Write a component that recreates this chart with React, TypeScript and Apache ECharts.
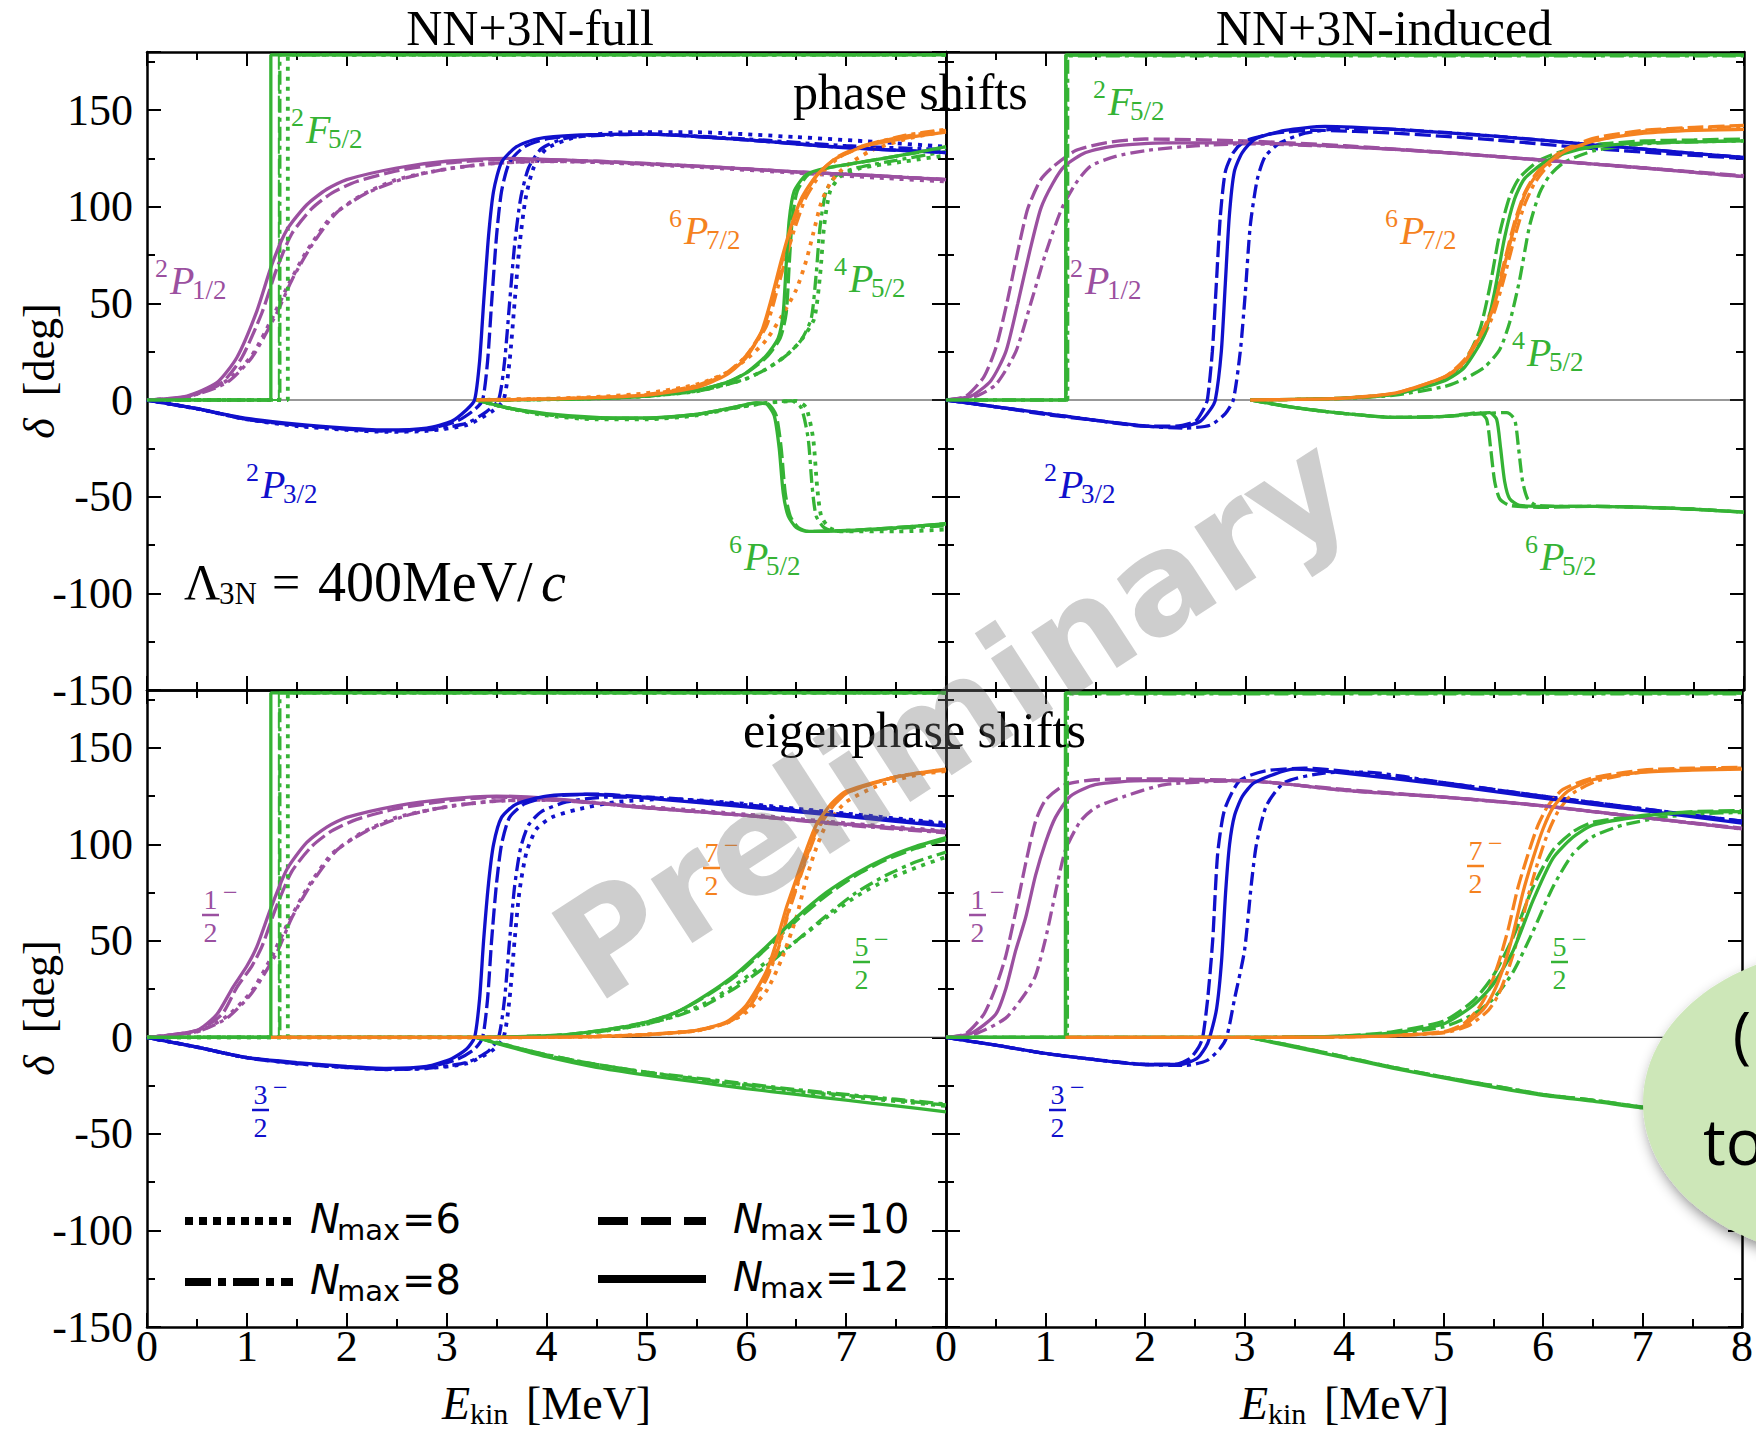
import React, { useEffect, useRef } from 'react';
import * as echarts from 'echarts';

const PURPLE = '#9b50a0';
const BLUE = '#1010cc';
const GREEN = '#35b335';
const ORANGE = '#f5821f';
const SERIF = "'Liberation Serif', 'Times New Roman', serif";
const SANS = "'DejaVu Sans', sans-serif";

// ---------- Panel A: phase shifts, NN+3N-full ----------
const aP1_12 = [[0,0],[0.4,2],[0.7,9],[0.9,22],[1.1,46],[1.25,70],[1.4,88],[1.6,101],[1.8,109],[2.0,114],[2.5,120],[3.0,123.5],[3.6,125],[4.5,123.5],[5.5,121],[6.5,118],[7.3,116],[8,114]];
const aP1_10 = [[0,0],[0.4,1.8],[0.75,9],[0.95,22],[1.15,45],[1.3,68],[1.45,86],[1.65,99],[1.85,107],[2.1,113],[2.5,118.5],[3.0,122.5],[3.6,124.5],[4.5,123.5],[5.5,121],[6.5,118],[7.3,116],[8,114]];
const aP1_8 = [[0,0],[0.4,1.5],[0.8,9],[1.05,22],[1.3,45],[1.45,62],[1.65,80],[1.9,97],[2.2,107],[2.6,115],[3.0,119.5],[3.5,122.5],[4.0,123.5],[4.5,123],[5.5,121],[6.5,118],[7.3,116],[8,114]];
const aP1_6 = [[0,0],[0.4,1.5],[0.8,10],[1.05,23],[1.25,42],[1.4,58],[1.6,77],[1.85,95],[2.15,106],[2.5,114],[3.0,119.5],[3.5,122.5],[4.0,123.5],[4.5,123],[5.5,120.5],[6.5,117.5],[7.3,115],[8,113]];

const aP3_12 = [[0,0],[0.5,-4.5],[1,-9.5],[1.5,-12.5],[2,-14.5],[2.4,-15.5],[2.8,-14.5],[3.05,-11],[3.2,-5],[3.28,0],[3.33,20],[3.37,50],[3.42,85],[3.47,108],[3.55,123],[3.7,131],[3.9,135],[4.3,137],[5,137.5],[6,134.5],[7,130.5],[8,128]];
const aP3_10 = [[0,0],[0.5,-4.5],[1,-10],[1.5,-13],[2,-15],[2.4,-16],[2.8,-15],[3.1,-11],[3.28,-5],[3.36,0],[3.41,20],[3.45,50],[3.5,85],[3.55,108],[3.63,123],[3.78,131],[4.0,135],[4.4,137],[5,137.5],[6,134.5],[7,130.5],[8,128]];
const aP3_8 = [[0,0],[0.5,-4.5],[1,-10],[1.5,-13],[2,-15],[2.4,-16],[2.8,-15.5],[3.2,-12],[3.4,-6],[3.52,0],[3.58,20],[3.63,50],[3.68,80],[3.74,104],[3.82,120],[3.95,130],[4.2,135.5],[4.6,137],[5,137.5],[6,135],[7,131.5],[8,129.5]];
const aP3_6 = [[0,0],[0.5,-4.5],[1,-10],[1.5,-13.5],[2,-15.5],[2.4,-16.5],[2.8,-16],[3.2,-13],[3.45,-6],[3.57,0],[3.63,20],[3.68,50],[3.73,80],[3.79,104],[3.87,120],[4.0,130],[4.3,136],[4.8,138.5],[5.5,138.5],[6.5,136],[7.3,133.5],[8,131]];

const fFull_12 = [[0,0],[1.24,0],[1.24,178.5],[8,178.5]];
const fFull_10 = [[0,0],[1.32,0],[1.32,178.5],[8,178.5]];
const fFull_8 = [[0,0],[1.33,0],[1.33,178.5],[8,178.5]];
const fFull_6 = [[0,0],[1.41,0],[1.41,178.5],[8,178.5]];

const aP7_12 = [[3.3,0],[4,0.5],[4.5,1.2],[5,2.5],[5.5,6.5],[5.8,13],[6.0,22],[6.15,35],[6.25,52],[6.35,72],[6.45,90],[6.55,104],[6.7,116],[6.9,125],[7.2,131.5],[7.6,135.5],[8,138.5]];
const aP7_10 = [[3.3,0],[4,0.5],[4.5,1.2],[5,2.6],[5.5,7],[5.8,13.5],[6.0,23],[6.17,37],[6.27,54],[6.37,74],[6.47,91],[6.57,105],[6.72,117],[6.92,126],[7.2,132],[7.6,136.5],[8,139.5]];
const aP7_8 = [[3.3,0],[4,0.5],[4.5,1.3],[5,2.8],[5.5,7.5],[5.8,14],[6.0,23],[6.2,38],[6.3,55],[6.4,74],[6.5,91],[6.6,105],[6.75,117],[6.95,126],[7.25,132.5],[7.6,137],[8,140]];
const aP7_6 = [[3.3,0],[4,0.7],[4.5,1.6],[5,3.5],[5.5,8],[5.8,14],[6.0,21],[6.2,31],[6.35,43],[6.5,57],[6.6,72],[6.67,86],[6.75,102],[6.85,113],[7.0,121],[7.25,129],[7.6,135],[8,139]];

const aQ5_12 = [[3.3,0],[4,0.3],[4.5,0.8],[5,2],[5.5,5],[5.8,9],[6.0,14],[6.2,23],[6.32,32],[6.37,45],[6.4,70],[6.43,93],[6.48,108],[6.6,116.5],[6.8,120],[7.15,123],[7.6,127],[8,131]];
const aQ5_10 = [[3.3,0],[4,0.3],[4.5,0.8],[5,2],[5.5,5],[5.8,9],[6.0,14],[6.2,22],[6.34,32],[6.4,45],[6.43,70],[6.46,93],[6.51,108],[6.62,116.5],[6.82,120],[7.15,123],[7.6,127],[8,130.5]];
const aQ5_8 = [[3.3,0],[4,0.3],[4.5,0.8],[5,2],[5.5,4.5],[5.8,8],[6.0,11],[6.2,16],[6.4,23],[6.55,31],[6.65,42],[6.7,65],[6.74,90],[6.8,108],[6.9,116],[7.1,120],[7.5,124],[8,128.5]];
const aQ5_6 = [[3.3,0],[4,0.3],[4.5,0.8],[5,2],[5.5,4.5],[5.8,8],[6.0,11],[6.2,16],[6.4,23],[6.55,31],[6.68,42],[6.74,65],[6.78,90],[6.84,108],[6.95,116],[7.15,120],[7.6,123.5],[8,126.5]];

const aS5_12 = [[3.3,0],[3.6,-4],[4,-7],[4.5,-9],[5,-9.3],[5.5,-7.5],[5.9,-3.5],[6.1,-1.5],[6.2,-2],[6.28,-8],[6.33,-25],[6.37,-48],[6.42,-60],[6.5,-66],[6.6,-68],[7,-67.5],[7.5,-66],[8,-64]];
const aS5_10 = [[3.3,0],[3.6,-4],[4,-7.5],[4.5,-9.5],[5,-9.5],[5.5,-7.5],[5.9,-3.5],[6.1,-1.5],[6.22,-2],[6.3,-8],[6.35,-25],[6.39,-48],[6.44,-60],[6.52,-66],[6.62,-68],[7,-67.5],[7.5,-66],[8,-64]];
const aS5_8 = [[3.3,0],[3.6,-4],[4,-7.5],[4.5,-9.5],[5,-9.5],[5.5,-7.5],[5.9,-4],[6.2,-1.5],[6.45,-0.5],[6.55,-4],[6.62,-20],[6.66,-45],[6.7,-60],[6.78,-66],[6.9,-68],[7.3,-67],[8,-65]];
const aS5_6 = [[3.3,0],[3.6,-4],[4,-8],[4.5,-10],[5,-10],[5.5,-8],[5.9,-4],[6.2,-1.5],[6.5,-0.5],[6.6,-4],[6.67,-20],[6.71,-45],[6.75,-60],[6.83,-66],[6.95,-68],[7.5,-68],[8,-67]];

// ---------- Panel B: phase shifts, NN+3N-induced ----------
const bP1_10 = [[0,0],[0.2,2],[0.38,12],[0.5,27],[0.61,50],[0.72,77],[0.82,99],[0.95,114],[1.08,121],[1.3,129],[1.6,133],[2,135],[3,134],[4,131.5],[5,128],[6,124],[7,120],[8,116]];
const bP1_12 = [[0,0],[0.25,2],[0.45,10],[0.6,25],[0.72,50],[0.84,77],[0.95,99],[1.07,112],[1.19,121],[1.4,128],[1.7,131.5],[2.2,133],[3,133],[4,131],[5,128],[6,124],[7,120],[8,115.5]];
const bP1_8 = [[0,0],[0.3,2],[0.5,8],[0.7,25],[0.85,50],[1.0,76],[1.16,99],[1.3,112],[1.45,121],[1.7,126],[2.0,129],[2.5,131.5],[3,132.5],[4,131],[5,128],[6,124],[7,120],[8,115.5]];

const bP3_10 = [[0,0],[0.5,-3.5],[1,-7.5],[1.5,-10.5],[2,-13.5],[2.3,-13.5],[2.5,-11],[2.58,-5],[2.62,0],[2.67,25],[2.71,60],[2.75,95],[2.8,118],[2.88,128],[3.0,134],[3.3,138],[3.7,139.5],[4.5,138],[5.5,134.5],[6.5,130],[7.5,126.5],[8,125]];
const bP3_12 = [[0,0],[0.5,-3.5],[1,-7],[1.5,-10.5],[2,-13.5],[2.35,-14],[2.55,-11],[2.65,-5],[2.7,0],[2.76,25],[2.8,60],[2.84,95],[2.89,118],[2.97,128],[3.1,135],[3.4,139.5],[3.8,141.5],[4.5,140],[5.5,136.5],[6.5,132],[7.5,127.5],[8,125.5]];
const bP3_8 = [[0,0],[0.5,-3.5],[1,-7],[1.5,-10.5],[2,-13.5],[2.4,-14.5],[2.65,-13],[2.8,-7],[2.88,0],[2.95,25],[3.0,55],[3.05,90],[3.12,114],[3.2,126],[3.35,133],[3.6,138],[4.0,140.5],[4.5,140],[5.5,136.5],[6.5,132],[7.5,127.5],[8,125.5]];

const fInd_12 = [[0,0],[1.2,0],[1.2,178.5],[8,178.5]];
const fInd_10 = [[0,0],[1.21,0],[1.21,178],[8,178]];
const fInd_8 = [[0,0],[1.22,0],[1.22,178],[8,178]];

const bP7_12 = [[3.05,0],[3.5,0.3],[4,1],[4.5,3.5],[5,12],[5.2,20],[5.4,37],[5.5,50],[5.6,70],[5.7,90],[5.8,106],[5.9,115],[6,121],[6.2,128.5],[6.5,134],[7,138],[7.5,139.5],[8,140]];
const bP7_10 = [[3.05,0],[3.5,0.3],[4,1],[4.5,3.5],[5,12],[5.2,21],[5.4,38],[5.5,52],[5.6,72],[5.7,92],[5.8,107],[5.9,116],[6,122],[6.2,129.5],[6.5,135.5],[7,139.5],[7.5,141],[8,142]];
const bP7_8 = [[3.05,0],[3.5,0.3],[4,1],[4.5,3.2],[5,11],[5.2,19],[5.4,34],[5.5,46],[5.6,64],[5.7,84],[5.8,101],[5.9,112],[6,119],[6.2,128],[6.5,134],[7,139],[7.5,140.5],[8,141.5]];

const bQ5_12 = [[3.05,0],[3.5,0.3],[4,1],[4.5,3],[5,10],[5.2,17],[5.4,34],[5.5,56],[5.6,84],[5.7,104],[5.8,114.5],[6,123],[6.2,127.5],[6.5,131],[7,133],[7.5,133.5],[8,134]];
const bQ5_10 = [[3.05,0],[3.5,0.3],[4,1],[4.5,3],[5,11],[5.2,20],[5.35,36],[5.45,58],[5.55,86],[5.65,105],[5.75,115],[5.95,124],[6.2,129],[6.5,132],[7,134],[7.5,134.5],[8,135]];
const bQ5_8 = [[3.05,0],[3.5,0.3],[4,0.8],[4.5,2.5],[5,7],[5.2,11],[5.4,17],[5.55,26],[5.65,40],[5.75,62],[5.85,90],[5.95,107],[6.05,116],[6.2,123],[6.5,129],[7,132.5],[7.5,133.5],[8,134]];

const bS5_12 = [[3.05,0],[3.5,-4],[4,-7],[4.5,-9],[5,-8.5],[5.3,-7],[5.45,-6.5],[5.52,-10],[5.56,-25],[5.6,-42],[5.65,-51],[5.75,-54.5],[6,-55],[6.5,-55],[7,-55.5],[7.5,-56.5],[8,-58]];
const bS5_10 = [[3.05,0],[3.5,-4],[4,-7],[4.5,-9],[5,-8.5],[5.25,-7],[5.35,-6.5],[5.42,-10],[5.46,-25],[5.5,-42],[5.55,-51],[5.65,-54.5],[6,-55.5],[6.5,-55],[7,-55.5],[7.5,-56.5],[8,-58]];
const bS5_8 = [[3.05,0],[3.5,-4],[4,-7],[4.5,-9],[5,-8.5],[5.4,-7],[5.62,-6.5],[5.7,-10],[5.74,-25],[5.78,-42],[5.83,-51],[5.92,-54.5],[6.2,-55],[6.5,-55],[7,-55.5],[7.5,-56.5],[8,-58]];

// ---------- Panel C: eigenphase shifts, NN+3N-full ----------
const cP1_12 = [[0,0],[0.5,3.7],[0.7,12],[0.86,26],[1.0,37],[1.1,47],[1.24,67],[1.4,87],[1.6,101],[1.8,109],[2,114],[2.5,120],[3,123.5],[3.5,125],[4,124],[5,119],[6,115],[7,110.5],[8,106.5]];
const cP1_10 = [[0,0],[0.5,3.5],[0.75,12],[0.9,26],[1.05,37],[1.15,47],[1.29,67],[1.45,86],[1.65,99],[1.85,107],[2.1,113],[2.5,118.5],[3,122.5],[3.5,124.5],[4,123.5],[5,119],[6,115],[7,110.5],[8,106.5]];
const cP1_8 = [[0,0],[0.5,3],[0.8,10],[1.05,23],[1.3,44],[1.45,62],[1.65,80],[1.9,97],[2.2,107],[2.6,115],[3,119.5],[3.5,122.5],[4,123],[5,119],[6,115],[7,110],[8,106]];
const cP1_6 = [[0,0],[0.5,3],[0.8,11],[1.05,24],[1.25,42],[1.4,58],[1.6,77],[1.85,95],[2.15,106],[2.5,114],[3,119.5],[3.5,122.5],[4,123],[5,119.5],[6,115.5],[7,111],[8,107]];

const cP3_12 = [[0,0],[0.5,-5],[1,-10.4],[1.5,-13],[2,-15],[2.4,-16],[2.8,-15],[3.05,-11],[3.2,-6],[3.28,0],[3.33,20],[3.37,50],[3.42,80],[3.47,100],[3.55,114],[3.7,121],[4,125],[4.4,126],[5,124],[6,119.5],[7,114.5],[8,109.5]];
const cP3_10 = [[0,0],[0.5,-5],[1,-10.5],[1.5,-13.5],[2,-15.5],[2.4,-16.5],[2.8,-15.5],[3.1,-11.5],[3.28,-6],[3.36,0],[3.41,20],[3.45,50],[3.5,80],[3.55,100],[3.63,114],[3.78,121],[4.05,125],[4.5,126],[5,124.5],[6,120],[7,115],[8,110]];
const cP3_8 = [[0,0],[0.5,-5],[1,-10.5],[1.5,-13.5],[2,-15.5],[2.4,-16.5],[2.8,-16],[3.2,-13],[3.42,-7],[3.52,0],[3.58,20],[3.63,50],[3.68,78],[3.74,98],[3.82,110],[3.95,117],[4.2,122],[4.6,124.5],[5,124.5],[6,120.5],[7,115.5],[8,110.5]];
const cP3_6 = [[0,0],[0.5,-5],[1,-10.5],[1.5,-13.5],[2,-15.5],[2.4,-16.5],[2.8,-16],[3.2,-13.5],[3.45,-7],[3.57,0],[3.63,20],[3.68,50],[3.73,76],[3.8,96],[3.9,108],[4.05,114],[4.3,118],[4.7,122],[5.2,123.5],[6,121],[7,116],[8,111]];

const cP7_12 = [[1.24,0],[3.3,0],[4,0.2],[4.5,0.5],[5,1.5],[5.5,3.7],[5.8,8],[6,16.7],[6.2,34],[6.3,49],[6.4,67],[6.5,82],[6.6,97],[6.7,110],[6.85,121],[7,127.5],[7.5,135],[8,138.5]];
const cP7_10 = [[1.32,0],[3.3,0],[4,0.2],[4.5,0.5],[5,1.5],[5.5,3.5],[5.8,7.5],[6,15],[6.2,31],[6.32,47],[6.42,65],[6.52,81],[6.62,96],[6.72,109],[6.87,120],[7.02,127],[7.5,135],[8,139]];
const cP7_8 = [[1.33,0],[3.3,0],[4,0.2],[4.5,0.5],[5,1.5],[5.5,3.5],[5.8,7.5],[6,14],[6.2,30],[6.32,46],[6.42,64],[6.52,80],[6.62,95],[6.72,108],[6.87,120],[7.02,127],[7.5,135],[8,139]];
const cP7_6 = [[1.41,0],[3.3,0],[4,0.2],[4.5,0.5],[5,1.5],[5.5,3.5],[5.8,7.5],[6,13],[6.2,24],[6.35,40],[6.5,62],[6.6,82],[6.7,98],[6.8,110],[7,122],[7.3,130],[7.7,136],[8,138]];

const cQ5_12 = [[0,0],[3.3,0],[3.8,0.5],[4.2,1.5],[4.6,4],[5,8],[5.3,13],[5.6,22],[5.9,33],[6.2,47],[6.5,62],[6.8,75],[7.1,85],[7.4,93],[7.7,99],[8,103.5]];
const cQ5_10 = [[0,0],[3.3,0],[3.8,0.5],[4.2,1.5],[4.6,4],[5,8],[5.3,13],[5.6,21.5],[5.9,32],[6.2,46],[6.5,60.5],[6.8,73.5],[7.1,84],[7.4,92],[7.7,98],[8,102.5]];
const cQ5_8 = [[0,0],[3.3,0],[3.8,0.4],[4.2,1.2],[4.6,3.5],[5,7],[5.3,11],[5.6,17],[5.9,26],[6.2,37],[6.5,50],[6.8,63],[7.1,75],[7.4,84],[7.7,91],[8,96]];
const cQ5_6 = [[0,0],[3.3,0],[3.8,0.4],[4.2,1.2],[4.6,3.5],[5,7],[5.3,11.5],[5.6,18],[5.9,27.5],[6.2,39],[6.5,50],[6.8,62],[7.1,73],[7.4,81.5],[7.7,88],[8,93.5]];

const cS5_12 = [[3.3,0],[3.6,-4.5],[4,-10],[4.5,-15.5],[5,-19.5],[5.5,-23],[6,-26.5],[6.5,-29.5],[7,-32.5],[7.5,-35.5],[8,-38.5]];
const cS5_10 = [[3.3,0],[3.6,-4],[4,-9],[4.5,-14],[5,-18],[5.5,-21.5],[6,-24.5],[6.5,-27.5],[7,-30],[7.5,-32.5],[8,-35]];
const cS5_8 = [[3.3,0],[3.6,-4],[4,-9],[4.5,-14],[5,-18],[5.5,-21],[6,-24],[6.5,-27],[7,-29.5],[7.5,-32],[8,-34.5]];
const cS5_6 = [[3.3,0],[3.6,-4],[4,-9.5],[4.5,-14.5],[5,-18.5],[5.5,-22],[6,-25],[6.5,-28],[7,-30.5],[7.5,-33],[8,-35.5]];

// ---------- Panel D: eigenphase shifts, NN+3N-induced ----------
const dP1_10 = [[0,0],[0.2,2],[0.38,12],[0.5,26],[0.6,42],[0.7,65],[0.8,90],[0.9,112],[1.0,123],[1.2,131],[1.5,133.5],[2,134],[3,133],[4,128.5],[5,124.5],[6,120],[7,114],[8,108.5]];
const dP1_12 = [[0,0],[0.25,2],[0.5,12],[0.6,25],[0.7,45],[0.8,62],[0.9,84],[1.0,101],[1.1,114],[1.25,125],[1.5,131],[2,133],[3,133],[4,128],[5,124.5],[6,120],[7,114],[8,108]];
const dP1_8 = [[0,0],[0.3,2],[0.6,10],[0.8,23],[0.9,32],[1.0,51],[1.1,75],[1.2,97],[1.35,112],[1.5,119],[1.8,125],[2.2,131],[3,133],[4,128],[5,124.5],[6,120],[7,114],[8,108]];

const dP3_10 = [[0,0],[0.5,-4],[1,-8.3],[1.5,-11.5],[2,-14],[2.3,-14],[2.45,-11],[2.54,-5],[2.58,0],[2.63,20],[2.68,50],[2.73,95],[2.8,118],[2.95,133],[3.2,138],[3.6,139.5],[4,138],[5,132],[6,125],[7,118.5],[8,112]];
const dP3_12 = [[0,0],[0.5,-4],[1,-8.3],[1.5,-11.5],[2,-14],[2.35,-14],[2.52,-11],[2.61,-5],[2.65,0],[2.72,15],[2.77,40],[2.81,75],[2.85,100],[2.9,115],[2.98,125],[3.1,132],[3.5,139],[4,137],[5,131],[6,124],[7,117.6],[8,111]];
const dP3_8 = [[0,0],[0.5,-4],[1,-8.3],[1.5,-11.5],[2,-14],[2.4,-14.5],[2.62,-12],[2.75,-6],[2.82,0],[2.9,20],[3.0,45],[3.07,80],[3.12,100],[3.22,120],[3.4,132],[3.8,137],[4.2,137.5],[5,132],[6,125],[7,118.5],[8,112]];

const dP7_12 = [[1.2,0],[3.05,0],[3.5,0.1],[4,0.3],[4.5,1],[5,2.6],[5.2,6],[5.4,14.6],[5.5,23],[5.6,36],[5.7,53.7],[5.8,75.4],[5.9,92.8],[6,108],[6.1,119],[6.25,127.6],[6.5,133.5],[7,137.4],[7.5,138.5],[8,139]];
const dP7_10 = [[1.21,0],[3.05,0],[3.5,0.1],[4,0.3],[4.5,1],[5,3],[5.2,7],[5.35,15],[5.45,24],[5.55,38],[5.65,56],[5.75,78],[5.85,95],[5.95,110],[6.05,120],[6.2,128.5],[6.5,134.5],[7,138.5],[7.5,139.5],[8,140]];
const dP7_8 = [[1.22,0],[3.05,0],[3.5,0.1],[4,0.3],[4.5,1],[5,2.4],[5.25,6],[5.45,14],[5.55,22],[5.65,35],[5.75,52],[5.85,73],[5.95,91],[6.05,106],[6.15,117],[6.3,126.5],[6.55,133],[7,137.5],[7.5,139],[8,139.5]];

const dQ5_12 = [[0,0],[3.05,0],[3.5,0.2],[4,0.7],[4.5,2.5],[5,7],[5.3,16.7],[5.5,27.6],[5.7,45],[5.9,71],[6.1,92.8],[6.3,103.7],[6.5,110],[7,114.6],[7.5,116.7],[8,117]];
const dQ5_10 = [[0,0],[3.05,0],[3.5,0.2],[4,0.8],[4.5,3],[5,8.5],[5.3,19],[5.5,32],[5.7,52],[5.9,78],[6.1,97],[6.3,106.5],[6.5,111.5],[7,115],[7.5,117],[8,117.5]];
const dQ5_8 = [[0,0],[3.05,0],[3.5,0.2],[4,0.6],[4.5,2],[5,5.5],[5.3,12],[5.5,20],[5.7,34],[5.9,55],[6.1,78],[6.3,95],[6.5,104],[6.8,110],[7.2,114],[7.6,116],[8,116.5]];

const dS5_12 = [[3.05,0],[3.5,-5],[4,-10.4],[4.5,-16],[5,-21],[5.5,-25.7],[6,-30],[6.5,-33],[7,-36.5],[7.5,-39],[8,-41]];
const dS5_10 = [[3.05,0],[3.5,-4.5],[4,-10],[4.5,-15.5],[5,-20.5],[5.5,-25],[6,-29.5],[6.5,-32.5],[7,-36],[7.5,-38.5],[8,-40.5]];
const dS5_8 = [[3.05,0],[3.5,-4.5],[4,-10],[4.5,-15.5],[5,-20.5],[5.5,-25],[6,-29.5],[6.5,-32.5],[7,-36],[7.5,-38.5],[8,-40.5]];

const ZERO_LINE = [[0,0],[8,0]];

// grid, data, color, Nmax, step
const CURVES: [number, number[][], string, number, boolean][] = [
  [0, aP1_6, PURPLE, 6, false], [0, aP1_8, PURPLE, 8, false], [0, aP1_10, PURPLE, 10, false], [0, aP1_12, PURPLE, 12, false],
  [0, aP3_6, BLUE, 6, false], [0, aP3_8, BLUE, 8, false], [0, aP3_10, BLUE, 10, false], [0, aP3_12, BLUE, 12, false],
  [0, fFull_6, GREEN, 6, true], [0, fFull_8, GREEN, 8, true], [0, fFull_10, GREEN, 10, true], [0, fFull_12, GREEN, 12, true],
  [0, aS5_6, GREEN, 6, false], [0, aS5_8, GREEN, 8, false], [0, aS5_10, GREEN, 10, false], [0, aS5_12, GREEN, 12, false],
  [0, aQ5_6, GREEN, 6, false], [0, aQ5_8, GREEN, 8, false], [0, aQ5_10, GREEN, 10, false], [0, aQ5_12, GREEN, 12, false],
  [0, aP7_6, ORANGE, 6, false], [0, aP7_8, ORANGE, 8, false], [0, aP7_10, ORANGE, 10, false], [0, aP7_12, ORANGE, 12, false],

  [1, bP1_8, PURPLE, 8, false], [1, bP1_10, PURPLE, 10, false], [1, bP1_12, PURPLE, 12, false],
  [1, bP3_8, BLUE, 8, false], [1, bP3_10, BLUE, 10, false], [1, bP3_12, BLUE, 12, false],
  [1, fInd_8, GREEN, 8, true], [1, fInd_10, GREEN, 10, true], [1, fInd_12, GREEN, 12, true],
  [1, bS5_8, GREEN, 8, false], [1, bS5_10, GREEN, 10, false], [1, bS5_12, GREEN, 12, false],
  [1, bQ5_8, GREEN, 8, false], [1, bQ5_10, GREEN, 10, false], [1, bQ5_12, GREEN, 12, false],
  [1, bP7_8, ORANGE, 8, false], [1, bP7_10, ORANGE, 10, false], [1, bP7_12, ORANGE, 12, false],

  [2, cP1_6, PURPLE, 6, false], [2, cP1_8, PURPLE, 8, false], [2, cP1_10, PURPLE, 10, false], [2, cP1_12, PURPLE, 12, false],
  [2, cP3_6, BLUE, 6, false], [2, cP3_8, BLUE, 8, false], [2, cP3_10, BLUE, 10, false], [2, cP3_12, BLUE, 12, false],
  [2, fFull_6, GREEN, 6, true], [2, fFull_8, GREEN, 8, true], [2, fFull_10, GREEN, 10, true], [2, fFull_12, GREEN, 12, true],
  [2, cS5_6, GREEN, 6, false], [2, cS5_8, GREEN, 8, false], [2, cS5_10, GREEN, 10, false], [2, cS5_12, GREEN, 12, false],
  [2, cQ5_6, GREEN, 6, false], [2, cQ5_8, GREEN, 8, false], [2, cQ5_10, GREEN, 10, false], [2, cQ5_12, GREEN, 12, false],
  [2, cP7_6, ORANGE, 6, false], [2, cP7_8, ORANGE, 8, false], [2, cP7_10, ORANGE, 10, false], [2, cP7_12, ORANGE, 12, false],

  [3, dP1_8, PURPLE, 8, false], [3, dP1_10, PURPLE, 10, false], [3, dP1_12, PURPLE, 12, false],
  [3, dP3_8, BLUE, 8, false], [3, dP3_10, BLUE, 10, false], [3, dP3_12, BLUE, 12, false],
  [3, fInd_8, GREEN, 8, true], [3, fInd_10, GREEN, 10, true], [3, fInd_12, GREEN, 12, true],
  [3, dS5_8, GREEN, 8, false], [3, dS5_10, GREEN, 10, false], [3, dS5_12, GREEN, 12, false],
  [3, dQ5_8, GREEN, 8, false], [3, dQ5_10, GREEN, 10, false], [3, dQ5_12, GREEN, 12, false],
  [3, dP7_8, ORANGE, 8, false], [3, dP7_10, ORANGE, 10, false], [3, dP7_12, ORANGE, 12, false],
];

const DASH: Record<number, any> = { 6: [4, 6], 8: [14, 5, 4, 5], 10: [16, 5], 12: 'solid' };
const WIDTH: Record<number, number> = { 6: 3.8, 8: 3.3, 10: 3.3, 12: 3.3 };

const GRIDS = [
  { left: 147, top: 52, width: 799, height: 638 },
  { left: 946, top: 52, width: 798, height: 638 },
  { left: 147, top: 690, width: 799, height: 637 },
  { left: 946, top: 690, width: 798, height: 637 },
];

function xAxisFor(i: number, position: string, labels: boolean, hideMax: boolean) {
  return {
    type: 'value', gridIndex: i, position, min: 0, max: 8, interval: 1,
    axisLine: { show: true, onZero: false, lineStyle: { color: '#000', width: 2.5 } },
    axisTick: { show: true, inside: true, length: 14, lineStyle: { color: '#000', width: 2 } },
    minorTick: { show: true, splitNumber: 2, length: 8, lineStyle: { color: '#000', width: 2 } },
    splitLine: { show: false },
    axisLabel: {
      show: labels, margin: -3, color: '#000', fontFamily: SERIF, fontSize: 44,
      formatter: (v: number) => (hideMax && v === 8 ? '' : String(v)),
    },
  };
}
function yAxisFor(i: number, position: string, labels: boolean) {
  return {
    type: 'value', gridIndex: i, position, min: -150, max: 180, interval: 50,
    axisLine: { show: true, onZero: false, lineStyle: { color: '#000', width: 2.5 } },
    axisTick: { show: true, inside: true, length: 14, lineStyle: { color: '#000', width: 2 } },
    minorTick: { show: true, splitNumber: 2, length: 8, lineStyle: { color: '#000', width: 2 } },
    splitLine: { show: false },
    axisLabel: {
      show: labels, margin: 14, color: '#000', fontFamily: SERIF, fontSize: 44,
      formatter: (v: number) => (v === 180 ? '' : String(v)),
    },
  };
}

function T(x: number, y: number, text: string, o: any = {}) {
  return {
    type: 'text', x, y, z: 60, rotation: o.rot || 0,
    style: {
      text, fill: o.fill || '#000', fontSize: o.size || 44, fontFamily: o.family || SERIF,
      fontStyle: o.italic ? 'italic' : 'normal', fontWeight: o.bold ? 'bold' : 'normal',
      align: o.align || 'left', verticalAlign: 'middle', textAlign: o.align || 'left', textVerticalAlign: 'middle',
      rich: o.rich,
    },
  };
}
function L(x1: number, y1: number, x2: number, y2: number, stroke: string, lineWidth: number, lineDash?: number[]) {
  return { type: 'line', z: 60, shape: { x1, y1, x2, y2 }, style: { stroke, lineWidth, lineDash } };
}
function chan(x: number, y: number, sup: string, main: string, sub: string, fill: string) {
  return [
    T(x, y - 12, sup, { size: 26, fill }),
    T(x + 15, y, main, { size: 40, italic: true, fill }),
    T(x + 37, y + 10, sub, { size: 27, fill }),
  ];
}
function frac(x: number, y: number, num: string, den: string, fill: string) {
  return [
    T(x + 8.5, y - 16, num, { size: 28, fill, align: 'center' }),
    L(x, y, x + 17, y, fill, 2.5),
    T(x + 8.5, y + 17, den, { size: 28, fill, align: 'center' }),
    T(x + 21, y - 23, '\u2212', { size: 26, fill }),
  ];
}
function legendEntry(x: number, y: number, dash: number[] | undefined, tx: number, val: string) {
  return [
    L(x, y, x + 108, y, '#000', 8, dash),
    T(tx, y - 2, 'N', { size: 40, italic: true, family: SANS }),
    T(tx + 27, y + 9, 'max', { size: 29, family: SANS }),
    T(tx + 92, y - 2, '=' + val, { size: 40, family: SANS }),
  ];
}

function buildOption() {
  const xAxis: any[] = [];
  const yAxis: any[] = [];
  for (let i = 0; i < 4; i++) xAxis.push(xAxisFor(i, 'bottom', i >= 2, i === 2));
  for (let i = 0; i < 4; i++) xAxis.push(xAxisFor(i, 'top', false, false));
  for (let i = 0; i < 4; i++) yAxis.push(yAxisFor(i, 'left', i === 0 || i === 2));
  for (let i = 0; i < 4; i++) yAxis.push(yAxisFor(i, 'right', false));

  const series: any[] = [];
  for (let g = 0; g < 4; g++) {
    series.push({
      type: 'line', xAxisIndex: g, yAxisIndex: g, data: ZERO_LINE, showSymbol: false, silent: true, z: 1,
      lineStyle: { color: '#333', width: 1.2 },
    });
  }
  CURVES.forEach(([g, data, color, n, step]) => {
    series.push({
      type: 'line', xAxisIndex: g, yAxisIndex: g, data, showSymbol: false, silent: true,
      smooth: step ? false : 0.22,
      lineStyle: { color, width: step && n === 10 ? 2 : WIDTH[n], type: DASH[n] },
      z: n === 12 ? 4 : 3,
    });
  });

  const rich = { i: { fontStyle: 'italic', fontSize: 44, fontFamily: SERIF } };
  const elements: any[] = [
    T(530, 28, 'NN+3N-full', { size: 50, align: 'center' }),
    T(1384, 28, 'NN+3N-induced', { size: 50, align: 'center' }),
    T(793, 92, 'phase shifts', { size: 50 }),
    T(743, 730, 'eigenphase shifts', { size: 50 }),
    T(39, 371, '{i|\u03b4}  [deg]', { size: 44, align: 'center', rot: Math.PI / 2, rich }),
    T(39, 1008, '{i|\u03b4}  [deg]', { size: 44, align: 'center', rot: Math.PI / 2, rich }),
    // x-axis titles
    T(442, 1403, 'E', { size: 46, italic: true }),
    T(470, 1413, 'kin', { size: 30 }),
    T(526, 1403, '[MeV]', { size: 46 }),
    T(1240, 1403, 'E', { size: 46, italic: true }),
    T(1268, 1413, 'kin', { size: 30 }),
    T(1324, 1403, '[MeV]', { size: 46 }),
    // Lambda label
    T(184, 582, '\u039b', { size: 50 }),
    T(219, 593, '3N', { size: 31 }),
    T(272, 582, '=', { size: 50 }),
    T(318, 582, '400MeV/', { size: 56 }),
    T(541, 582, 'c', { size: 56, italic: true }),
    // channel labels, panel A
    ...chan(291, 129, '2', 'F', '5/2', GREEN),
    ...chan(155, 280, '2', 'P', '1/2', PURPLE),
    ...chan(669, 230, '6', 'P', '7/2', ORANGE),
    ...chan(834, 278, '4', 'P', '5/2', GREEN),
    ...chan(246, 484, '2', 'P', '3/2', BLUE),
    ...chan(729, 556, '6', 'P', '5/2', GREEN),
    // panel B
    ...chan(1093, 101, '2', 'F', '5/2', GREEN),
    ...chan(1070, 280, '2', 'P', '1/2', PURPLE),
    ...chan(1385, 230, '6', 'P', '7/2', ORANGE),
    ...chan(1512, 352, '4', 'P', '5/2', GREEN),
    ...chan(1044, 484, '2', 'P', '3/2', BLUE),
    ...chan(1525, 556, '6', 'P', '5/2', GREEN),
    // eigenphase labels, panel C
    ...frac(202, 915, '1', '2', PURPLE),
    ...frac(703, 868, '7', '2', ORANGE),
    ...frac(853, 962, '5', '2', GREEN),
    ...frac(252, 1110, '3', '2', BLUE),
    // panel D
    ...frac(969, 915, '1', '2', PURPLE),
    ...frac(1467, 866, '7', '2', ORANGE),
    ...frac(1551, 962, '5', '2', GREEN),
    ...frac(1049, 1110, '3', '2', BLUE),
    // legend
    ...legendEntry(185, 1221, [8, 6], 310, '6'),
    ...legendEntry(185, 1282, [26, 7, 8, 7], 310, '8'),
    ...legendEntry(598, 1221, [30, 13], 733, '10'),
    ...legendEntry(598, 1279, undefined, 733, '12'),
    // watermark
    {
      type: 'text', x: 952, y: 717, rotation: 0.575, z: 100,
      style: {
        text: 'Preliminary', fill: 'rgba(120,120,120,0.36)', fontSize: 140, fontWeight: 'bold', fontFamily: SANS,
        align: 'center', verticalAlign: 'middle', textAlign: 'center', textVerticalAlign: 'middle',
      },
    },
    // speech bubble
    {
      type: 'ellipse', z: 110, shape: { cx: 1850, cy: 1103, rx: 207, ry: 155 },
      style: { fill: '#cde7b8', shadowBlur: 14, shadowColor: 'rgba(0,0,0,0.45)', shadowOffsetX: 3, shadowOffsetY: 6 },
    },
    { type: 'text', x: 1742, y: 1033, z: 111, style: { text: '(', fill: '#000', fontSize: 62, fontFamily: "'Open Sans', sans-serif", align: 'center', verticalAlign: 'middle' } },
    { type: 'text', x: 1703, y: 1140, z: 111, style: { text: 'to', fill: '#000', fontSize: 64, fontFamily: "'Open Sans', sans-serif", align: 'left', verticalAlign: 'middle' } },
  ];

  return {
    animation: false,
    backgroundColor: '#fff',
    grid: GRIDS,
    xAxis,
    yAxis,
    series,
    graphic: { elements },
  };
}

export default function App() {
  const ref = useRef<HTMLDivElement>(null);
  useEffect(() => {
    const chart = echarts.init(ref.current as HTMLDivElement, null, { renderer: 'svg' });
    chart.setOption(buildOption() as any);
    return () => chart.dispose();
  }, []);
  return <div ref={ref} style={{ position: 'absolute', left: 0, top: 0, width: 1756, height: 1430, background: '#fff' }} />;
}
